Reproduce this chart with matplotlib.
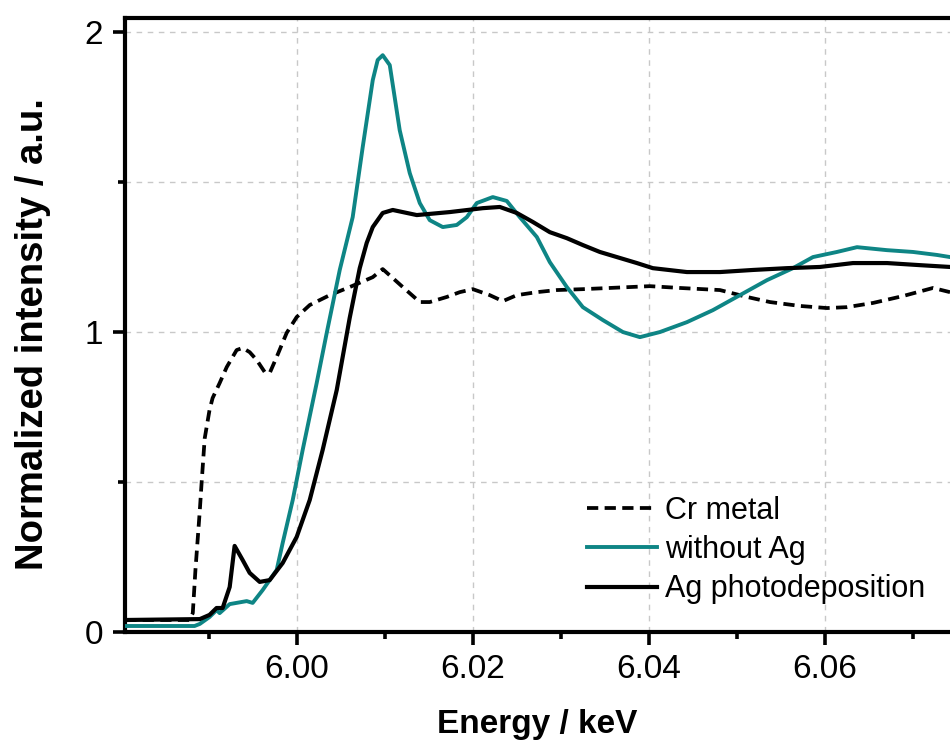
import matplotlib
matplotlib.use("Agg")
import matplotlib.pyplot as plt
from matplotlib.ticker import MultipleLocator, FixedLocator

plt.rcParams['font.family'] = ['Liberation Sans', 'DejaVu Sans']

# ---- data ----
cr_energy = [5.9805, 5.9878, 5.9882, 5.9885, 5.98875, 5.9890, 5.9892, 5.98955, 5.98977, 5.9901,
             5.99045, 5.99125, 5.99205, 5.99318, 5.99386, 5.99466, 5.99545, 5.99636, 5.99693, 5.99773,
             5.99886, 6.0000, 6.00148, 6.00375, 6.00602, 6.00864, 6.00977, 6.01205, 6.01398, 6.01511,
             6.01705, 6.01852, 6.02000, 6.02193, 6.02341, 6.02500, 6.02727, 6.02955, 6.03250, 6.03557,
             6.03784, 6.04011, 6.04352, 6.04807, 6.05114, 6.05375, 6.05716, 6.06023, 6.06250, 6.06545,
             6.06886, 6.07227, 6.0742]
cr_intensity = [0.040, 0.040, 0.063, 0.207, 0.307, 0.407, 0.497, 0.645, 0.683, 0.740,
                0.780, 0.830, 0.883, 0.940, 0.947, 0.933, 0.907, 0.867, 0.863, 0.917,
                0.997, 1.050, 1.090, 1.123, 1.150, 1.183, 1.210, 1.150, 1.100, 1.100,
                1.117, 1.133, 1.143, 1.123, 1.103, 1.123, 1.133, 1.140, 1.143, 1.147,
                1.150, 1.153, 1.147, 1.140, 1.117, 1.100, 1.087, 1.080, 1.083, 1.097,
                1.120, 1.147, 1.133]

noag_energy = [5.9805, 5.9884, 5.9890, 5.9901, 5.9909, 5.99125, 5.99239, 5.99432, 5.9950, 5.99614,
               5.99773, 5.99841, 5.99955, 6.00068, 6.00227, 6.00341, 6.00489, 6.00636, 6.00750, 6.00864,
               6.0092, 6.00977, 6.01057, 6.0117, 6.01284, 6.01398, 6.01511, 6.01659, 6.01818, 6.01932,
               6.02045, 6.02227, 6.02386, 6.02534, 6.02727, 6.02875, 6.03068, 6.0325, 6.03477, 6.03705,
               6.03898, 6.04125, 6.04432, 6.04727, 6.05034, 6.05341, 6.05636, 6.05864, 6.06136, 6.06364,
               6.06705, 6.0700, 6.07273, 6.0742]
noag_intensity = [0.020, 0.020, 0.027, 0.050, 0.073, 0.063, 0.093, 0.103, 0.097, 0.140,
                  0.207, 0.297, 0.440, 0.607, 0.830, 0.997, 1.207, 1.383, 1.617, 1.840,
                  1.907, 1.923, 1.890, 1.673, 1.530, 1.430, 1.373, 1.350, 1.357, 1.383,
                  1.430, 1.450, 1.437, 1.383, 1.317, 1.233, 1.150, 1.083, 1.040, 1.000,
                  0.983, 1.000, 1.033, 1.073, 1.123, 1.173, 1.213, 1.250, 1.267, 1.283,
                  1.273, 1.267, 1.257, 1.250]

ag_energy = [5.9805, 5.9890, 5.9901, 5.9909, 5.99159, 5.99239, 5.99295, 5.99386, 5.99466, 5.9958,
             5.99693, 5.99841, 6.0000, 6.00148, 6.00295, 6.00455, 6.00602, 6.00716, 6.00795, 6.00864,
             6.00977, 6.01091, 6.01364, 6.01739, 6.02114, 6.02307, 6.0250, 6.02682, 6.02875, 6.03068,
             6.0325, 6.03443, 6.03636, 6.03864, 6.04045, 6.04432, 6.04807, 6.05182, 6.05568, 6.05943,
             6.06318, 6.06705, 6.0708, 6.0742]
ag_intensity = [0.040, 0.043, 0.057, 0.080, 0.080, 0.150, 0.287, 0.240, 0.197, 0.167,
                0.173, 0.230, 0.317, 0.440, 0.607, 0.807, 1.047, 1.213, 1.297, 1.350,
                1.397, 1.407, 1.390, 1.400, 1.413, 1.417, 1.397, 1.367, 1.333, 1.313,
                1.290, 1.267, 1.250, 1.230, 1.213, 1.200, 1.200, 1.207, 1.213, 1.217,
                1.230, 1.230, 1.223, 1.217]

labels = ["Cr metal", "without Ag", "Ag photodeposition"]
x_major = [6.00, 6.02, 6.04, 6.06]
x_major_labels = ["6.00", "6.02", "6.04", "6.06"]
y_major = [0, 1, 2]
y_major_labels = ["0", "1", "2"]

# ---- figure ----
W, H = 950, 744
fig = plt.figure(figsize=(W / 100, H / 100), dpi=100)
ax = fig.add_axes([125 / W, (H - 632) / H, (950 - 125) / W, (632 - 18) / H])

teal = '#0e8585'
ax.plot(cr_energy, cr_intensity, color='black', lw=2.7, ls=(0, (3.0, 1.7)), label=labels[0], zorder=3)
ax.plot(noag_energy, noag_intensity, color=teal, lw=2.8, label=labels[1], zorder=4)
ax.plot(ag_energy, ag_intensity, color='black', lw=3.0, label=labels[2], zorder=5)

ax.set_xlim(5.9805, 6.0742)
ax.set_ylim(0, 2.047)

ax.xaxis.set_major_locator(FixedLocator(x_major))
ax.set_xticklabels(x_major_labels)
ax.xaxis.set_minor_locator(MultipleLocator(0.01))
ax.yaxis.set_major_locator(FixedLocator(y_major))
ax.set_yticklabels(y_major_labels)
ax.yaxis.set_minor_locator(MultipleLocator(0.5))

ax.tick_params(which='major', direction='out', length=9, width=2.6, labelsize=24, pad=7)
ax.tick_params(which='minor', direction='out', length=5, width=2.6)
ax.tick_params(top=False, right=False)

for side in ['left', 'bottom', 'top']:
    ax.spines[side].set_linewidth(3.0)
ax.spines['right'].set_visible(False)

grid_kw = dict(color='#c8c8c8', lw=1.0, ls=(0, (4, 4)))
ax.grid(False)
for gx in x_major:
    ax.axvline(gx, zorder=0, **grid_kw)
for gy in [0.5, 1.0, 1.5, 2.0]:
    ax.axhline(gy, zorder=0, **grid_kw)

ax.set_xlabel("Energy / keV", fontsize=24, fontweight='bold', labelpad=17)
ax.set_ylabel("Normalized intensity / a.u.", fontsize=27.5, fontweight='bold', labelpad=24)
ax.yaxis.label.set_y(0.485)

leg = ax.legend(loc='upper left', bbox_to_anchor=(587 / W, 1 - 496 / H), bbox_transform=fig.transFigure,
                frameon=False, fontsize=22, handlelength=2.3, handletextpad=0.26,
                labelspacing=0.3, borderpad=0, borderaxespad=0)

fig.savefig("out.png", dpi=100)
